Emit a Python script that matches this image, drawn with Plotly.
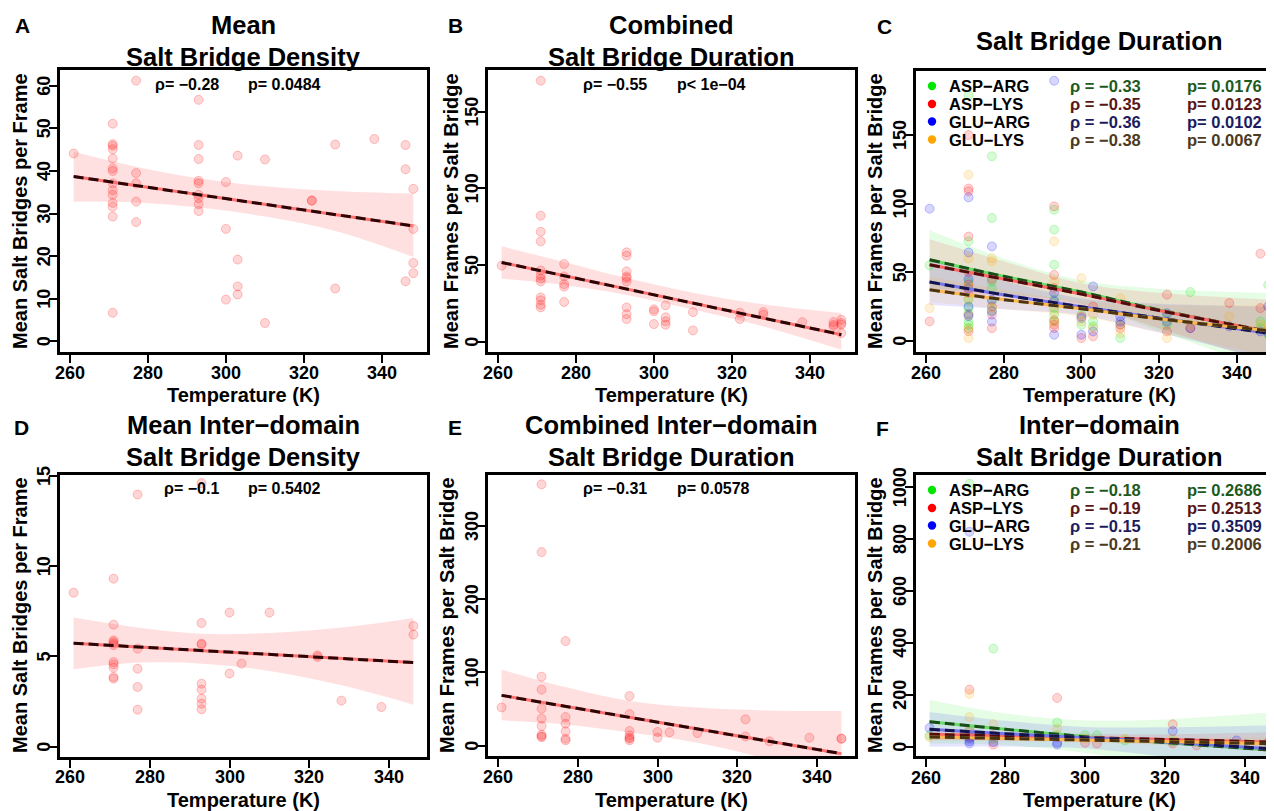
import plotly.graph_objects as go

# The figure sits 8 px in from the page corner; layout positions below are in
# reference-image pixels and are converted with this offset.
OX, OY = 8, 8
W, H = 1274 - OX, 811 - OY
FONT = "Liberation Sans, Arial, Helvetica, sans-serif"

# ---------------- data ----------------
X_TICKS = [260, 280, 300, 320, 340]

# Panel A : Mean salt bridge density
A_T = [261, 271, 271, 271, 271, 271, 271, 271, 271, 271, 271, 271, 271, 271, 271,
       277, 277, 277, 277, 277, 293, 293, 293, 293, 293, 293, 293, 293, 293,
       300, 300, 300, 303, 303, 303, 303, 310, 310, 322, 322, 328, 328, 338,
       346, 346, 346, 348, 348, 348, 348]
A_Y = [44.1, 51.1, 46.3, 45.9, 45.1, 42.9, 40.6, 40.0, 37.1, 35.5, 34.4, 32.5, 31.6, 29.3, 6.7,
       61.2, 39.5, 37.1, 32.8, 28.0, 56.7, 46.1, 42.8, 37.7, 37.1, 34.4, 33.6, 32.2, 30.6,
       37.4, 26.4, 9.8, 43.6, 19.2, 12.9, 11.0, 42.7, 4.3, 33.0, 33.1, 46.2, 12.4, 47.5,
       46.1, 40.4, 14.1, 35.8, 26.4, 18.4, 16.0]
A_YTICKS = [0, 10, 20, 30, 40, 50, 60]
A_FIT_T = [261, 348]
A_FIT = [38.7, 27.1]
A_BAND_T = [261, 277, 293, 310, 328, 348]
A_BAND_HI = [44.5, 41.0, 38.3, 36.4, 35.3, 34.7]
A_BAND_LO = [32.8, 32.6, 31.4, 29.3, 25.9, 19.8]

# Panel B : Combined salt bridge duration
B_T = [261, 271, 271, 271, 271, 271, 271, 271, 271, 271, 271, 271, 271,
       277, 277, 277, 277, 277, 293, 293, 293, 293, 293, 293, 293, 293, 293,
       300, 300, 300, 303, 303, 303, 303, 310, 310, 322, 322, 328, 328, 338,
       346, 346, 346, 348, 348, 348, 348]
B_Y = [49.6, 170.2, 82.2, 71.7, 65.4, 46.5, 43.3, 41.1, 39.3, 28.9, 27.0, 24.1, 22.4,
       50.7, 42.6, 37.6, 35.9, 25.9, 58.3, 56.1, 45.9, 42.6, 41.5, 39.3, 22.4, 18.0, 14.8,
       21.1, 19.8, 11.5, 23.7, 15.9, 13.3, 11.1, 19.3, 7.4, 18.9, 14.8, 19.3, 17.6, 12.8,
       12.8, 11.1, 10.0, 14.3, 12.2, 11.1, 5.7]
B_YTICKS = [0, 50, 100, 150]
B_FIT_T = [261, 348]
B_FIT = [51.7, 4.6]
B_BAND_T = [261, 277, 293, 310, 328, 348]
B_BAND_HI = [62.2, 52.0, 41.5, 32.0, 24.5, 18.7]
B_BAND_LO = [41.1, 37.0, 30.5, 21.0, 10.0, -5.2]

# Panel C : Salt bridge duration by pair type
PAIRS = ["ASP\u2212ARG", "ASP\u2212LYS", "GLU\u2212ARG", "GLU\u2212LYS"]
C_RHO = ["\u03c1 = \u22120.33", "\u03c1 = \u22120.35", "\u03c1 = \u22120.36", "\u03c1 = \u22120.38"]
C_P = ["p= 0.0176", "p= 0.0123", "p= 0.0102", "p= 0.0067"]
C_YTICKS = [0, 50, 100, 150]

C_ASP_ARG_T = [261, 271, 271, 271, 271, 271, 271, 271, 271, 271, 277, 277, 277, 277, 277, 277,
               293, 293, 293, 293, 293, 293, 293, 300, 300, 303, 303, 310, 310, 322, 322, 328,
               346, 346, 348, 348]
C_ASP_ARG_Y = [55, 179, 72.5, 43, 30, 24, 20, 14, 11.7, 9, 134.5, 89.5, 43, 38, 28.7, 22,
               95.5, 81, 55.4, 30, 24, 19, 14, 19, 11.7, 14, 10.5, 12, 2, 17.7, 11.7, 35.5,
               14, 9.2, 40.8, 4.4]
C_ASP_LYS_T = [261, 271, 271, 271, 271, 271, 271, 271, 271, 271, 277, 277, 277, 277,
               293, 293, 293, 293, 293, 293, 300, 300, 303, 303, 310, 310, 322, 322, 328, 338,
               346, 346, 348]
C_ASP_LYS_Y = [14.1, 150, 111, 109, 76, 50, 41, 35, 19, 7, 45, 25, 19, 9.2,
               98, 48, 38.4, 15, 11.7, 9.2, 17.7, 2, 25, 3.2, 11.7, 9.2, 33.6, 6.8, 9.2, 27.5,
               63.5, 23.8, 6.8]
C_GLU_ARG_T = [261, 271, 271, 271, 271, 271, 271, 277, 277, 277, 277, 293, 293, 293, 293,
               300, 300, 303, 303, 310, 310, 322, 322, 328, 338, 346, 348, 348]
C_GLU_ARG_Y = [96.3, 104.5, 64.4, 45, 38, 25, 18, 68.8, 30, 21.4, 14, 189.6, 35, 28.7, 4.4,
               16.5, 4.4, 39.6, 6.8, 17.7, 14, 20, 14, 9.2, 10.5, 6.8, 25, 5.6]
C_GLU_LYS_T = [261, 271, 271, 271, 271, 271, 271, 277, 277, 277, 293, 293, 293, 293,
               300, 300, 303, 303, 310, 310, 322, 328, 338, 346, 348, 348]
C_GLU_LYS_Y = [23.8, 121, 60, 40, 31, 9, 2, 60.3, 58, 24, 72.5, 43, 21.4, 14,
               45.7, 14, 19, 9.2, 31, 5.6, 2, 11.7, 17.7, 11.7, 10.5, 8]
C_FIT_T = [261, 280, 300, 320, 348]
C_FIT = [[59.1, 47.0, 35.5, 22.5, 6.8], [55.4, 45.0, 34.0, 22.0, 6.8],
         [42.8, 33.5, 24.8, 16.5, 5.6], [37.2, 30.0, 23.3, 16.0, 7.3]]
C_HI = [[80.5, 60.0, 44.0, 38.0, 34.8], [74.0, 58.0, 42.0, 35.0, 30.0],
        [60.0, 44.0, 31.0, 27.0, 25.0], [47.0, 37.0, 29.0, 26.0, 26.0]]
C_LO = [[38.0, 34.0, 27.0, 7.0, -21.0], [37.0, 32.0, 26.0, 9.0, -16.0],
        [26.0, 23.0, 18.5, 6.0, -14.0], [28.0, 23.0, 17.5, 6.0, -11.0]]

# Panel D : Mean inter-domain salt bridge density
D_T = [261, 271, 271, 271, 271, 271, 271, 271, 271, 271, 271, 271,
       277, 277, 277, 277, 277, 293, 293, 293, 293, 293, 293, 293, 293, 293,
       300, 300, 303, 310, 322, 322, 328, 338, 346, 346]
D_Y = [8.53, 9.31, 6.76, 5.89, 5.80, 5.71, 5.62, 4.69, 4.56, 4.38, 3.86, 3.77,
       13.97, 5.43, 4.32, 3.31, 2.05, 14.6, 6.85, 5.71, 5.65, 3.49, 3.16, 2.66, 2.38, 2.07,
       7.43, 4.05, 4.6, 7.43, 5.06, 4.97, 2.55, 2.2, 6.69, 6.21]
D_YTICKS = [0, 5, 10, 15]
D_FIT_T = [261, 346]
D_FIT = [5.73, 4.66]
D_BAND_T = [261, 277, 293, 310, 328, 346]
D_BAND_HI = [7.15, 6.6, 6.25, 6.3, 6.6, 7.13]
D_BAND_LO = [4.29, 4.65, 4.6, 4.2, 3.4, 2.33]

# Panel E : Combined inter-domain salt bridge duration
E_T = [261, 271, 271, 271, 271, 271, 271, 271, 271, 271, 271,
       277, 277, 277, 277, 277, 277, 293, 293, 293, 293, 293, 293, 293,
       300, 300, 303, 310, 322, 322, 328, 338, 346, 346]
E_Y = [52.3, 357, 264.5, 94.2, 76.5, 50.5, 36.9, 26.9, 15, 12.7, 11.8,
       142.9, 39.1, 30, 19.6, 9.6, 7.3, 67.8, 43.2, 20, 14.1, 10.9, 9.6, 7.3,
       18.7, 10.9, 18.2, 17.3, 36, 12.7, 5.9, 10.9, 9.6, 9.6]
E_YTICKS = [0, 100, 200, 300]
E_FIT_T = [261, 346]
E_FIT = [68.7, -10.9]
E_BAND_T = [261, 277, 293, 310, 328, 346]
E_BAND_HI = [104, 80, 61, 52, 48, 47.3]
E_BAND_LO = [34.6, 29, 18, 4, -20, -62]

# Panel F : Inter-domain salt bridge duration by pair type
F_RHO = ["\u03c1 = \u22120.18", "\u03c1 = \u22120.19", "\u03c1 = \u22120.15", "\u03c1 = \u22120.21"]
F_P = ["p= 0.2686", "p= 0.2513", "p= 0.3509", "p= 0.2006"]
F_YTICKS = [0, 200, 400, 600, 800, 1000]
F_ASP_ARG_T = [261, 271, 271, 277, 277, 293, 293, 300, 303, 310, 322]
F_ASP_ARG_Y = [44, 1013, 57, 378, 31, 93, 45, 44, 44, 24, 20]
F_ASP_LYS_T = [271, 271, 271, 277, 277, 293, 293, 300, 303, 322, 322, 328, 346]
F_ASP_LYS_Y = [220, 63, 37, 44, 8, 188, 37, 15, 12, 86, 12, 5, 18]
F_GLU_ARG_T = [261, 271, 271, 271, 271, 271, 277, 293, 293, 322, 338, 346]
F_GLU_ARG_Y = [72, 828, 44, 31, 21, 12, 18, 15, 8, 60, 24, 12]
F_GLU_LYS_T = [261, 271, 271, 277, 293, 300, 310, 322, 346]
F_GLU_LYS_Y = [37, 204, 114, 86, 69, 31, 31, 31, 15]
F_FIT_T = [261, 280, 300, 320, 346]
F_FIT = [[96.4, 67.0, 38.5, 16.0, -12.7], [47.6, 41.0, 34.5, 28.0, 18.0],
         [66.8, 50.0, 34.7, 18.0, -7.7], [37.3, 31.5, 25.5, 19.5, 11.6]]
F_HI = [[181, 128, 101, 105, 131], [69, 58, 50, 48, 56],
        [134, 100, 76, 75, 82], [50, 42, 35, 33, 36]]
F_LO = [[12, 6, -24, -73, -157], [26, 24, 19, 8, -20],
        [0, 0, -7, -39, -97], [25, 21, 16, 6, -13]]

# ---------------- styling ----------------
SERIES_RGB = [(0, 230, 0), (255, 0, 0), (0, 0, 255), (255, 165, 0)]
DASH_COL = ["#1b4d1b", "#4d0d0d", "#14144d", "#4a3313"]
TEXT_COL = ["#1e5a1e", "#5a1616", "#1c1c5e", "#4e3a1e"]
SOLID_COL = ["#66dd66", "#ff6666", "#7777ee", "#ffb84d"]


def px(x):
    return (x - OX) / W


def py(y):
    return 1 - (y - OY) / H


fig = go.Figure()
layout = {}
annotations = []
shapes = []

AX_COMMON = dict(showline=True, linecolor="black", linewidth=2.5, ticks="outside",
                 ticklen=8, tickwidth=2, tickcolor="black", showgrid=False,
                 zeroline=False, fixedrange=True, automargin=False, showticklabels=False)


def text(x, y, s, size, color="black", xanchor="center", angle=0, xref="paper", yref="paper"):
    annotations.append(dict(x=px(x) if xref == "paper" else x,
                            y=py(y) if yref == "paper" else y,
                            xref=xref, yref=yref, text=s,
                            showarrow=False, xanchor=xanchor, yanchor="middle",
                            textangle=angle,
                            font=dict(family=FONT, size=size, color=color, weight="bold")))


def add_axes(n, box, xr, yr, yticks, xlab_y, full_box=True):
    x0, x1, y0, y1 = box
    xk = "xaxis" if n == 1 else f"xaxis{n}"
    yk = "yaxis" if n == 1 else f"yaxis{n}"
    xa = "x" if n == 1 else f"x{n}"
    ya = "y" if n == 1 else f"y{n}"
    layout[xk] = dict(AX_COMMON, domain=[px(x0), min(px(x1), 1.0)], range=xr,
                      anchor=ya, tickvals=X_TICKS, mirror=True)
    layout[yk] = dict(AX_COMMON, domain=[py(y1), py(y0)], range=yr,
                      anchor=xa, tickvals=yticks, mirror=full_box)
    # R-style tick labels: vertical on y, placed on the axis scales
    for v in yticks:
        text(x0 - 16, v, str(v), 18, angle=-90, yref=ya)
    for v in X_TICKS:
        text(v, xlab_y, str(v), 18, xref=xa)
    return xa, ya


def add_band(xa, ya, t, lo, hi, fill):
    fig.add_trace(go.Scatter(x=t, y=lo, xaxis=xa, yaxis=ya, mode="lines",
                             line=dict(width=0, shape="spline", color="rgba(0,0,0,0)"),
                             hoverinfo="skip", showlegend=False))
    fig.add_trace(go.Scatter(x=t, y=hi, xaxis=xa, yaxis=ya, mode="lines", fill="tonexty",
                             fillcolor=fill,
                             line=dict(width=0, shape="spline", color="rgba(0,0,0,0)"),
                             hoverinfo="skip", showlegend=False))


def add_points(xa, ya, t, y, rgb):
    r, g, b = rgb
    fig.add_trace(go.Scatter(x=t, y=y, xaxis=xa, yaxis=ya, mode="markers",
                             marker=dict(size=9, color=f"rgba({r},{g},{b},0.16)",
                                         line=dict(width=1, color=f"rgba({r},{g},{b},0.22)")),
                             hoverinfo="skip", showlegend=False))


def add_fit(xa, ya, t, y, solid, dash):
    fig.add_trace(go.Scatter(x=t, y=y, xaxis=xa, yaxis=ya, mode="lines",
                             line=dict(color=solid, width=3, shape="spline"),
                             hoverinfo="skip", showlegend=False))
    fig.add_trace(go.Scatter(x=t, y=y, xaxis=xa, yaxis=ya, mode="lines",
                             line=dict(color=dash, width=3, dash="10px,5px", shape="spline"),
                             hoverinfo="skip", showlegend=False))


# ---- single-series panels ----
single = [
    (1, (60, 427, 70, 352), [257.5, 351.5], [-2.5, 63.7], A_YTICKS, 373,
     A_T, A_Y, A_FIT_T, A_FIT, A_BAND_T, A_BAND_LO, A_BAND_HI),
    (2, (488, 855, 70, 352), [257.5, 351.5], [-6.7, 177.2], B_YTICKS, 373,
     B_T, B_Y, B_FIT_T, B_FIT, B_BAND_T, B_BAND_LO, B_BAND_HI),
    (4, (60, 427, 475, 757), [257.6, 349.4], [-0.57, 15.05], D_YTICKS, 777,
     D_T, D_Y, D_FIT_T, D_FIT, D_BAND_T, D_BAND_LO, D_BAND_HI),
    (5, (488, 855, 475, 756), [257.6, 349.4], [-14.1, 369.8], E_YTICKS, 777,
     E_T, E_Y, E_FIT_T, E_FIT, E_BAND_T, E_BAND_LO, E_BAND_HI),
]
for n, box, xr, yr, yt, xly, t, y, ft, fy, bt, blo, bhi in single:
    xa, ya = add_axes(n, box, xr, yr, yt, xly)
    add_band(xa, ya, bt, blo, bhi, "rgba(255,0,0,0.12)")
    add_points(xa, ya, t, y, (255, 0, 0))
    add_fit(xa, ya, ft, fy, "#ff7070", "#2a0505")

# ---- multi-series panels ----
multi = [
    (3, (916, 1283, 71, 352), [257.5, 349.5], [-8.2, 196.7], C_YTICKS, 373,
     [(C_ASP_ARG_T, C_ASP_ARG_Y), (C_ASP_LYS_T, C_ASP_LYS_Y),
      (C_GLU_ARG_T, C_GLU_ARG_Y), (C_GLU_LYS_T, C_GLU_LYS_Y)],
     C_FIT_T, C_FIT, C_LO, C_HI),
    (6, (916, 1283, 475, 756), [257.6, 347.4], [-36, 1047], F_YTICKS, 777.5,
     [(F_ASP_ARG_T, F_ASP_ARG_Y), (F_ASP_LYS_T, F_ASP_LYS_Y),
      (F_GLU_ARG_T, F_GLU_ARG_Y), (F_GLU_LYS_T, F_GLU_LYS_Y)],
     F_FIT_T, F_FIT, F_LO, F_HI),
]
for n, box, xr, yr, yt, xly, series, ft, fits, los, his in multi:
    xa, ya = add_axes(n, box, xr, yr, yt, xly, full_box=False)
    for i in range(4):
        r, g, b = SERIES_RGB[i]
        add_band(xa, ya, ft, los[i], his[i], f"rgba({r},{g},{b},0.10)")
    for i, (t, y) in enumerate(series):
        add_points(xa, ya, t, y, SERIES_RGB[i])
    for i in range(4):
        add_fit(xa, ya, ft, fits[i], SOLID_COL[i], DASH_COL[i])

# ---------------- text ----------------
TITLE = 25.5
for s, x, y in [("A", 22, 26), ("B", 455, 26), ("C", 884, 27),
                ("D", 21, 427), ("E", 455, 427), ("F", 882, 428)]:
    text(x, y, s, 21)
text(243.5, 25, "Mean", TITLE)
text(243.5, 57, "Salt Bridge Density", TITLE)
text(671.5, 25, "Combined", TITLE)
text(671.5, 57, "Salt Bridge Duration", TITLE)
text(1099, 41, "Salt Bridge Duration", TITLE)
text(243.5, 425, "Mean Inter\u2212domain", TITLE)
text(243.5, 457, "Salt Bridge Density", TITLE)
text(671.5, 425, "Combined Inter\u2212domain", TITLE)
text(671.5, 457, "Salt Bridge Duration", TITLE)
text(1099, 425, "Inter\u2212domain", TITLE)
text(1099, 457, "Salt Bridge Duration", TITLE)

for x in [243.5, 671.5, 1099]:
    text(x, 395, "Temperature (K)", 20)
    text(x, 800, "Temperature (K)", 20)
text(20, 211, "Mean Salt Bridges per Frame", 20, angle=-90)
text(451, 211, "Mean Frames per Salt Bridge", 20, angle=-90)
text(875, 211, "Mean Frames per Salt Bridge", 20, angle=-90)
text(20, 615, "Mean Salt Bridges per Frame", 20, angle=-90)
text(447, 615, "Mean Frames per Salt Bridge", 20, angle=-90)
text(875, 615, "Mean Frames per Salt Bridge", 20, angle=-90)

STAT = 16
text(221, 84, "\u03c1= \u22120.28", STAT, xanchor="right")
text(246, 84, "p= 0.0484", STAT, xanchor="left")
text(649, 84, "\u03c1= \u22120.55", STAT, xanchor="right")
text(675, 84, "p< 1e\u221204", STAT, xanchor="left")
text(221, 489, "\u03c1= \u22120.1", STAT, xanchor="right")
text(246, 489, "p= 0.5402", STAT, xanchor="left")
text(649, 489, "\u03c1= \u22120.31", STAT, xanchor="right")
text(675, 489, "p= 0.0578", STAT, xanchor="left")

for rows, rhos, ps in [([86, 104, 121.5, 139.5], C_RHO, C_P),
                       ([490, 508, 525.5, 543.5], F_RHO, F_P)]:
    for i in range(4):
        r, g, b = SERIES_RGB[i]
        cx, cy, rad = 932, rows[i], 4.2
        shapes.append(dict(type="circle", xref="paper", yref="paper",
                           x0=px(cx - rad), x1=px(cx + rad), y0=py(cy + rad), y1=py(cy - rad),
                           fillcolor=f"rgb({r},{g},{b})", line=dict(width=0)))
        text(947, rows[i], PAIRS[i], 16.5, xanchor="left")
        text(1068, rows[i], rhos[i], 16.5, color=TEXT_COL[i], xanchor="left")
        text(1185, rows[i], ps[i], 16.5, color=TEXT_COL[i], xanchor="left")

layout.update(template="none", width=W, height=H,
              margin=dict(l=0, r=0, t=0, b=0, pad=0, autoexpand=False),
              paper_bgcolor="white", plot_bgcolor="white", showlegend=False,
              annotations=annotations, shapes=shapes)
fig.update_layout(**layout)
fig.write_html("out.html")
